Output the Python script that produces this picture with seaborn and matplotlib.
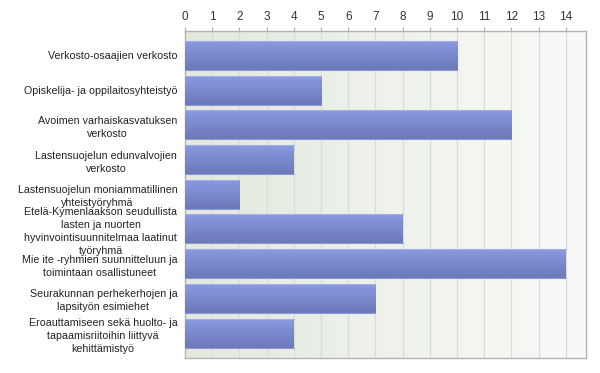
import numpy as np
import pandas as pd
import matplotlib
matplotlib.use('Agg')
import matplotlib.pyplot as plt
from matplotlib.colors import LinearSegmentedColormap
import seaborn as sns

labels = [
    'Verkosto-osaajien verkosto',
    'Opiskelija- ja oppilaitosyhteistyö',
    'Avoimen varhaiskasvatuksen\nverkosto',
    'Lastensuojelun edunvalvojien\nverkosto',
    'Lastensuojelun moniammatillinen\nyhteistyöryhmä',
    'Etelä-Kymenlaakson seudullista\nlasten ja nuorten\nhyvinvointisuunnitelmaa laatinut\ntyöryhmä',
    'Mie ite -ryhmien suunnitteluun ja\ntoimintaan osallistuneet',
    'Seurakunnan perhekerhojen ja\nlapsityön esimiehet',
    'Eroauttamiseen sekä huolto- ja\ntapaamisriitoihin liittyvä\nkehittämistyö',
]
counts = [10, 5, 12, 4, 2, 8, 14, 7, 4]
x_ticks = list(range(0, 15))

df = pd.DataFrame({'label': labels, 'count': counts})

sns.set_style('white')
plt.rcParams['font.family'] = ['Liberation Sans', 'DejaVu Sans']

fig = plt.figure(figsize=(6, 3.73), dpi=100)
ax = fig.add_axes([0.3083, 0.0402, 0.6678, 0.8767])

ax.set_xlim(0, 14.73)
ax.set_ylim(8.72, -0.706)

# background gradient
bg = LinearSegmentedColormap.from_list('bg', ['#e2e9dd', '#eef2eb', '#f9faf8'])
ax.imshow(np.linspace(0, 1, 256).reshape(1, -1), cmap=bg, aspect='auto',
          extent=(0, 14.73, 8.72, -0.706), zorder=0)

for t in x_ticks[1:]:
    ax.axvline(t, color='#d9ddd6', lw=0.9, zorder=1)

sns.barplot(data=df, x='count', y='label', orient='h', width=0.835,
            color='#7a88cc', ax=ax, zorder=2)

bar_cmap = LinearSegmentedColormap.from_list('bar', ['#8a9ae2', '#6b79b8'])
for p in ax.patches:
    x0, y0 = p.get_x(), p.get_y()
    w, h = p.get_width(), p.get_height()
    p.set_facecolor('none')
    p.set_edgecolor('none')
    ax.imshow(np.linspace(0, 1, 64).reshape(-1, 1), cmap=bar_cmap, aspect='auto',
              extent=(x0, x0 + w, y0 + h, y0), zorder=3)
    ax.plot([x0, x0 + w], [y0, y0], color='#a3afe6', lw=0.8, zorder=4)
    ax.plot([x0, x0 + w], [y0 + h, y0 + h], color='#8f9bd0', lw=0.8, zorder=4)

ax.set_xlim(0, 14.73)
ax.set_ylim(8.72, -0.706)

ax.xaxis.tick_top()
ax.set_xticks(x_ticks)
ax.tick_params(axis='x', length=3, color='#b0b0b0', labelsize=8.5, labelcolor='#333333', pad=2.5)
ax.tick_params(axis='y', length=0, labelsize=7.7, labelcolor='#222222', pad=5.5)
for lab in ax.get_yticklabels():
    lab.set_multialignment('center')
    lab.set_linespacing(1.38)
ax.set_xlabel('')
ax.set_ylabel('')

for s in ax.spines.values():
    s.set_visible(True)
    s.set_color('#b4b4b4')
    s.set_linewidth(1.0)

fig.savefig('out.png', dpi=100)
